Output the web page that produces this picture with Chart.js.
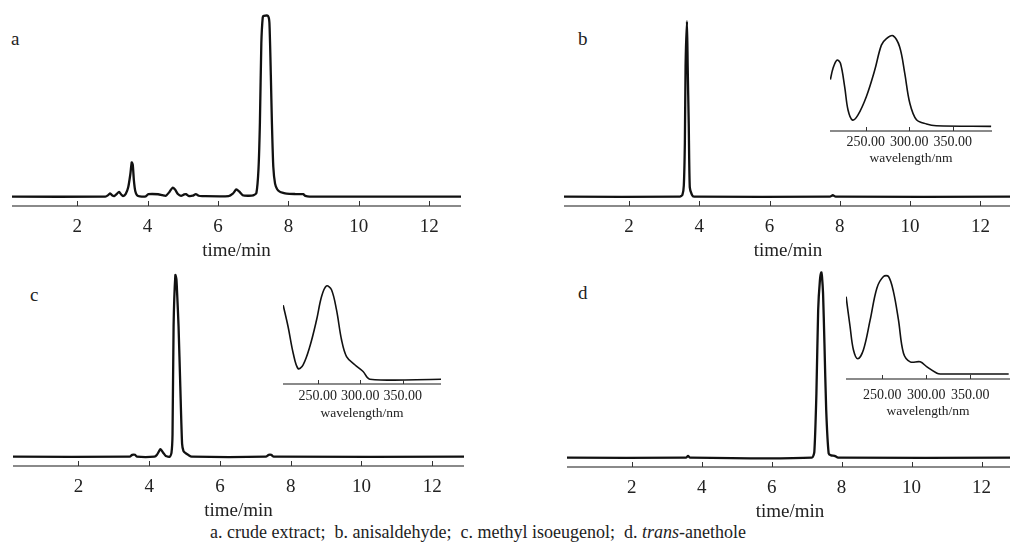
<!DOCTYPE html>
<html>
<head>
<meta charset="utf-8">
<title>HPLC chromatograms</title>
<script src="https://cdn.jsdelivr.net/npm/chart.js@4.4.0/dist/chart.umd.min.js"></script>
<style>
  body { margin: 0; width: 1010px; height: 544px; overflow: hidden; background: #fff; position: relative;
         font-family: "Liberation Serif", "Times New Roman", serif; color: #222; }
  canvas { position: absolute; }
  .tag { position: absolute; font-size: 19px; line-height: 20px; }
  #caption { position: absolute; left: 0; width: 956px; top: 521px; text-align: center; font-size: 18px; line-height: 22px; }
</style>
</head>
<body>
<div class="tag" style="left:11px;top:29px">a</div>
<div class="tag" style="left:578px;top:29px">b</div>
<div class="tag" style="left:30px;top:285px">c</div>
<div class="tag" style="left:578px;top:283px">d</div>
<div id="caption">a. crude extract;&nbsp; b. anisaldehyde;&nbsp; c. methyl isoeugenol;&nbsp; d. <i>trans</i>-anethole</div>

<script>
// --- Data ---
const timeTicks = [2, 4, 6, 8, 10, 12];
const wlTicks = [250, 300, 350];

// a. crude extract
const aTime   = [0.15, 2.8, 2.88, 2.93, 2.99, 3.05, 3.12, 3.19, 3.25, 3.3, 3.38, 3.45, 3.51, 3.55, 3.58, 3.61, 3.65, 3.7, 3.78, 3.95,
                 4.02, 4.3, 4.42, 4.52, 4.62, 4.71, 4.78, 4.86, 4.95, 5.04, 5.09, 5.16, 5.28, 5.37, 5.45, 5.55, 6.3, 6.42, 6.52, 6.6,
                 6.7, 6.85, 7.0, 7.09, 7.15, 7.19, 7.23, 7.27, 7.3, 7.42, 7.46, 7.5, 7.53, 7.57, 7.62, 7.68, 7.75, 7.85, 7.95, 8.2,
                 8.42, 8.48, 8.6, 12.95];
const aSignal = [0, 0, 0.8, 1.8, 0.8, 0.3, 1.4, 2.5, 1.2, 0.3, 1.5, 5, 12, 18.4, 17, 9, 3, 0.8, 0.2, 0.2,
                 1.3, 1.3, 0.8, 0.5, 2.5, 4.8, 3.8, 1.4, 0.4, 1.2, 1.4, 0.4, 0.5, 1.4, 0.5, 0.3, 0.3, 1.6, 3.9, 2.8,
                 0.8, 0.5, 0.7, 2, 15, 40, 82, 96, 96.8, 96.8, 93, 65, 40, 16, 7, 4, 2.7, 2, 1.6, 1.4,
                 1.3, 0.4, 0, 0];

// b. anisaldehyde
const bTime   = [0.14, 3.45, 3.52, 3.56, 3.59, 3.61, 3.65, 3.67, 3.7, 3.73, 3.79, 3.85, 7.72, 7.8, 7.88, 12.9];
const bSignal = [0, 0, 1, 6, 29, 70, 94, 70, 39, 5, 1, 0, 0, 0.8, 0, 0];

// c. methyl isoeugenol
const cTime   = [0.15, 3.45, 3.52, 3.6, 3.65, 4.15, 4.22, 4.32, 4.4, 4.47, 4.58, 4.63, 4.66, 4.69, 4.74, 4.77, 4.79, 4.83, 4.88, 4.93,
                 4.97, 5.02, 5.1, 5.2, 7.3, 7.38, 7.45, 7.52, 13];
const cSignal = [0, 0, 1, 1, 0, 0, 1, 4, 2, 0.3, 0, 2, 12, 70, 97.3, 95, 87.5, 70, 37.5, 7,
                 3, 2, 1, 0, 0, 1, 1, 0, 0];

// d. trans-anethole
const dTime   = [0.14, 3.55, 3.61, 3.67, 7.15, 7.22, 7.28, 7.33, 7.38, 7.42, 7.44, 7.47, 7.51, 7.56, 7.63, 7.7, 7.8, 7.9, 12.9];
const dSignal = [0, 0, 1, 0, 0, 3, 34.5, 79, 95, 99.3, 97, 88, 61, 25.5, 2.3, 1.2, 1, 0, 0];

// UV spectra (insets)
const bWl  = [209.4, 212.4, 217, 221, 225.9, 229.7, 234.7, 241, 250.8, 260.3, 268, 273.8, 281.4, 289, 294.8, 300.6, 308.3, 319.8, 331, 394];
const bAbs = [0.5, 0.62, 0.71, 0.675, 0.42, 0.175, 0.068, 0.12, 0.32, 0.6, 0.87, 0.94, 0.97, 0.85, 0.57, 0.25, 0.07, 0.025, 0.007, 0];

const cWl  = [209.2, 215, 221, 226.8, 232.7, 240.6, 248.5, 254.4, 260.2, 266.1, 272, 277.9, 283.8, 293.5, 303.3, 311.2, 395];
const cAbs = [0.77, 0.545, 0.27, 0.11, 0.15, 0.34, 0.615, 0.86, 0.97, 0.93, 0.72, 0.41, 0.235, 0.15, 0.08, 0, 0];

const dWl  = [209.1, 213.6, 217.4, 222.4, 228.8, 236.4, 244, 251.5, 257.2, 262.8, 268.5, 274.2, 281.8, 293.2, 300.8, 312.2, 316, 393.5];
const dAbs = [0.765, 0.47, 0.24, 0.15, 0.24, 0.535, 0.85, 0.965, 0.965, 0.815, 0.535, 0.205, 0.12, 0.12, 0.07, 0.007, 0, 0];

// --- Layout ---
const SERIF = '"Liberation Serif", "Times New Roman", serif';

// draws short tick marks pointing up from the x axis line
const innerTicks = {
    id: 'innerTicks',
    afterDraw(chart, args, opts) {
        const s = chart.scales.x;
        const ctx = chart.ctx;
        ctx.save();
        ctx.strokeStyle = '#333';
        ctx.lineWidth = 1;
        s.ticks.forEach(t => {
            const px = Math.round(s.getPixelForValue(t.value)) + 0.5;
            ctx.beginPath();
            ctx.moveTo(px, s.top);
            ctx.lineTo(px, s.top - opts.len);
            ctx.stroke();
        });
        ctx.restore();
    }
};

function makeCanvas(box) {
    const c = document.createElement('canvas');
    c.width = box.w;
    c.height = box.h + box.axisH;
    c.style.left = box.left + 'px';
    c.style.top = box.top + 'px';
    document.body.appendChild(c);
    return c;
}

function plot(box, xs, ys, cfg) {
    const canvas = makeCanvas(box);
    return new Chart(canvas, {
        type: 'line',
        data: {
            datasets: [{
                data: xs.map((x, i) => ({ x: x, y: ys[i] })),
                borderColor: '#111',
                borderWidth: cfg.lineW,
                pointRadius: 0,
                tension: cfg.tension,
                fill: false
            }]
        },
        options: {
            responsive: false,
            animation: false,
            devicePixelRatio: 1,
            events: [],
            layout: { padding: 0 },
            plugins: { legend: { display: false }, tooltip: { enabled: false }, innerTicks: { len: cfg.tickLen } },
            scales: {
                x: {
                    type: 'linear',
                    min: cfg.min,
                    max: cfg.max,
                    afterBuildTicks: s => { s.ticks = cfg.ticks.map(v => ({ value: v })); },
                    afterFit: s => { s.height = box.axisH; },
                    grid: { display: false, drawTicks: false },
                    border: { display: true, color: '#8a8a8a', width: 2 },
                    ticks: {
                        color: '#222',
                        padding: cfg.labelPad,
                        maxRotation: 0,
                        font: { family: SERIF, size: cfg.labelSize },
                        callback: cfg.fmt
                    },
                    title: {
                        display: true,
                        text: cfg.title,
                        color: '#222',
                        padding: 0,
                        font: { family: SERIF, size: cfg.titleSize }
                    }
                },
                y: { display: false, min: cfg.yMin, max: cfg.yMax }
            }
        },
        plugins: [innerTicks]
    });
}

const mainCfg = {
    min: 0.15, max: 12.9, ticks: timeTicks, yMin: -5, yMax: 100, lineW: 2.3, tension: 0.2,
    tickLen: 5, labelPad: 10, labelSize: 19, title: 'time/min', titleSize: 19, fmt: v => v
};
const insetCfg = {
    min: 209, max: 395, ticks: wlTicks, yMin: -0.05, yMax: 1.0, lineW: 1.6, tension: 0.35,
    tickLen: 4, labelSize: 14, title: 'wavelength/nm', titleSize: 13.5, fmt: v => v.toFixed(2)
};

plot({ left: 12, top: 10, w: 449, h: 196, axisH: 56 }, aTime, aSignal, mainCfg);
plot({ left: 564, top: 10, w: 448, h: 196, axisH: 56 }, bTime, bSignal, mainCfg);
plot({ left: 13, top: 270, w: 451, h: 196, axisH: 56 }, cTime, cSignal, mainCfg);
plot({ left: 567, top: 271, w: 446, h: 196, axisH: 56 }, dTime, dSignal, mainCfg);

plot({ left: 830, top: 33, w: 162, h: 98, axisH: 36 }, bWl, bAbs, Object.assign({}, insetCfg, { labelPad: 3 }));
plot({ left: 283, top: 283, w: 158, h: 101, axisH: 38 }, cWl, cAbs, Object.assign({}, insetCfg, { labelPad: 4 }));
plot({ left: 846, top: 273, w: 164, h: 106, axisH: 41 }, dWl, dAbs, Object.assign({}, insetCfg, { labelPad: 8 }));
</script>
</body>
</html>
